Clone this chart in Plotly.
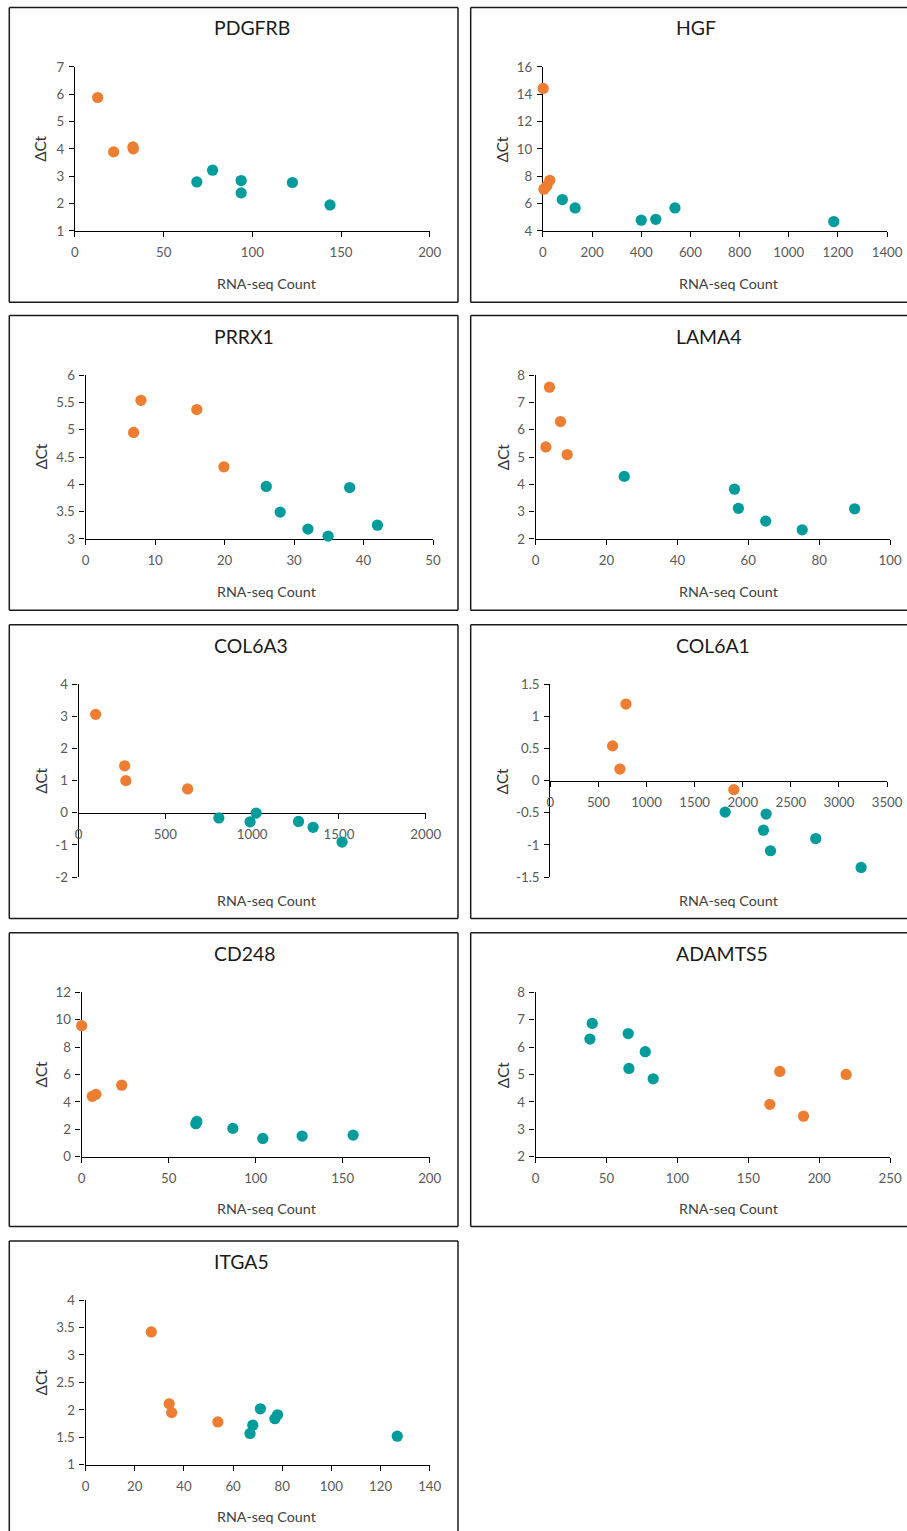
import plotly.graph_objects as go

# ---------------- data ----------------
genes = ["PDGFRB", "HGF", "PRRX1", "LAMA4", "COL6A3", "COL6A1", "CD248", "ADAMTS5", "ITGA5"]

pdgfrb_orange_x = [12.8, 21.8, 32.7, 32.9]
pdgfrb_orange_y = [5.88, 3.89, 4.07, 4.0]
pdgfrb_teal_x = [68.7, 77.6, 93.7, 93.7, 122.6, 143.8]
pdgfrb_teal_y = [2.79, 3.22, 2.84, 2.39, 2.77, 1.95]

hgf_orange_x = [1, 4, 16, 28]
hgf_orange_y = [14.42, 7.05, 7.3, 7.7]
hgf_teal_x = [79, 131, 400, 459, 537, 1183]
hgf_teal_y = [6.29, 5.68, 4.78, 4.85, 5.68, 4.68]

prrx1_orange_x = [6.9, 7.96, 16.0, 19.9]
prrx1_orange_y = [4.95, 5.54, 5.37, 4.32]
prrx1_teal_x = [26.0, 28.0, 32.0, 34.9, 38.0, 42.0]
prrx1_teal_y = [3.96, 3.49, 3.18, 3.05, 3.94, 3.25]

lama4_orange_x = [3.9, 7.0, 2.9, 8.9]
lama4_orange_y = [7.56, 6.30, 5.37, 5.09]
lama4_teal_x = [25.0, 56.1, 57.2, 64.9, 75.2, 90.0]
lama4_teal_y = [4.29, 3.82, 3.12, 2.65, 2.33, 3.10]

col6a3_orange_x = [98, 265, 272, 628]
col6a3_orange_y = [3.06, 1.46, 1.0, 0.74]
col6a3_teal_x = [808, 988, 1023, 1267, 1351, 1518]
col6a3_teal_y = [-0.16, -0.28, -0.01, -0.27, -0.45, -0.91]

col6a1_orange_x = [786, 647, 723, 1907]
col6a1_orange_y = [1.19, 0.54, 0.18, -0.14]
col6a1_teal_x = [1817, 2243, 2215, 2288, 2759, 3230]
col6a1_teal_y = [-0.49, -0.52, -0.77, -1.09, -0.90, -1.35]

cd248_orange_x = [0.0, 6.1, 8.2, 23.0]
cd248_orange_y = [9.55, 4.41, 4.55, 5.22]
cd248_teal_x = [65.6, 66.2, 86.9, 104.1, 126.7, 156.0]
cd248_teal_y = [2.41, 2.58, 2.07, 1.34, 1.51, 1.58]

adamts5_orange_x = [172.2, 219.0, 165.2, 188.9]
adamts5_orange_y = [5.11, 5.0, 3.91, 3.48]
adamts5_teal_x = [39.9, 38.3, 65.3, 77.3, 65.8, 82.9]
adamts5_teal_y = [6.86, 6.29, 6.49, 5.83, 5.22, 4.84]

itga5_orange_x = [26.7, 34.0, 35.0, 53.8]
itga5_orange_y = [3.42, 2.11, 1.95, 1.78]
itga5_teal_x = [66.9, 68.0, 71.1, 77.0, 78.1, 126.8]
itga5_teal_y = [1.57, 1.72, 2.02, 1.84, 1.91, 1.52]

x_ranges = [(0, 200, 50), (0, 1400, 200), (0, 50, 10), (0, 100, 20), (0, 2000, 500),
            (0, 3500, 500), (0, 200, 50), (0, 250, 50), (0, 140, 20)]
y_ranges = [(1, 7, 1), (4, 16, 2), (3, 6, 0.5), (2, 8, 1), (-2, 4, 1),
            (-1.5, 1.5, 0.5), (0, 12, 2), (2, 8, 1), (1, 4, 0.5)]

x_title = "RNA-seq Count"
y_title = "ΔCt"

series = [
    (pdgfrb_orange_x, pdgfrb_orange_y, pdgfrb_teal_x, pdgfrb_teal_y),
    (hgf_orange_x, hgf_orange_y, hgf_teal_x, hgf_teal_y),
    (prrx1_orange_x, prrx1_orange_y, prrx1_teal_x, prrx1_teal_y),
    (lama4_orange_x, lama4_orange_y, lama4_teal_x, lama4_teal_y),
    (col6a3_orange_x, col6a3_orange_y, col6a3_teal_x, col6a3_teal_y),
    (col6a1_orange_x, col6a1_orange_y, col6a1_teal_x, col6a1_teal_y),
    (cd248_orange_x, cd248_orange_y, cd248_teal_x, cd248_teal_y),
    (adamts5_orange_x, adamts5_orange_y, adamts5_teal_x, adamts5_teal_y),
    (itga5_orange_x, itga5_orange_y, itga5_teal_x, itga5_teal_y),
]

# ---------------- layout geometry (target picture pixels) ----------------
W, H = 907, 1531
# the photographed page comes out slightly shrunk and offset; compensate for it
SX, OX = 0.979, 4.0
SY, OY = 0.9897, 7.8
FIG_W, FIG_H = 923, 1540

# plot areas: left, right, top, bottom
plot_px = [
    (75.0, 430.0, 66.7, 230.7),
    (543.3, 887.7, 66.7, 230.7),
    (85.7, 433.3, 375.0, 538.7),
    (536.0, 890.7, 375.0, 538.7),
    (78.7, 426.0, 684.0, 877.0),
    (550.7, 887.7, 684.0, 877.0),
    (81.7, 430.0, 992.0, 1156.7),
    (536.0, 890.7, 992.0, 1156.7),
    (85.7, 430.0, 1300.0, 1464.7),
]
box_cols = [(9.3, 458.3), (471.0, None)]
box_rows = [(7.3, 302.0), (315.3, 610.0), (624.7, 918.3), (932.7, 1226.3), (1241.0, None)]
title_y = [27.3, 336.0, 645.0, 953.0, 1261.0]
title_x_left = [212.3, 674.3]
ytitle_x = [40.7, 502.7]
ytitle_y = [149.0, 456.7, 781.0, 1074.7, 1382.7]
xtitle_x = [267.0, 728.7]
xtitle_y = [283.3, 591.7, 900.3, 1208.3, 1516.3]

ORANGE = "#ED7D31"
TEAL = "#009B9B"
FONT = "Lato, 'Open Sans', sans-serif"
FS = 1 / SX  # font / marker size compensation


def fx(px):
    return ((px - OX) / SX) / FIG_W


def fy(py):
    return 1 - ((py - OY) / SY) / FIG_H


fig = go.Figure()
layout = dict(
    autosize=True, margin=dict(l=0, r=0, t=0, b=0, pad=0),
    paper_bgcolor="white", plot_bgcolor="rgba(0,0,0,0)",
    showlegend=False, font=dict(family=FONT),
)
shapes = []
annotations = []


def seg(xa, ya, xb, yb):
    return dict(type="line", xref="paper", yref="paper",
                x0=fx(xa), y0=fy(ya), x1=fx(xb), y1=fy(yb),
                line=dict(color="#1a1a1a", width=1.5), layer="below")


for i, gene in enumerate(genes):
    n = "" if i == 0 else str(i + 1)
    ox, oy, tx, ty = series[i]
    for xs, ys, col in ((tx, ty, TEAL), (ox, oy, ORANGE)):
        fig.add_trace(go.Scatter(
            x=xs, y=ys, mode="markers", xaxis="x" + n, yaxis="y" + n,
            marker=dict(color=col, size=11 * FS, line=dict(width=0)),
            cliponaxis=False, hoverinfo="x+y",
        ))
    l, r, t, b = plot_px[i]
    x0, x1, xd = x_ranges[i]
    y0, y1, yd = y_ranges[i]
    xt = []
    v = x0
    while v <= x1 + 1e-9:
        xt.append(v)
        v += xd
    yt = []
    v = y0
    while v <= y1 + 1e-9:
        yt.append(round(v, 6))
        v += yd
    common = dict(showgrid=False, zeroline=False, showline=True, linecolor="#000000",
                  linewidth=1.3, ticks="outside", ticklen=5, tickwidth=1.2,
                  tickcolor="#000000", tickfont=dict(family=FONT, size=13 * FS, color="#595959"),
                  layer="below traces", fixedrange=True)
    xa = dict(common, domain=[fx(l), fx(r)], range=[x0, x1], tickvals=xt,
              ticktext=[f"{v:g}" for v in xt], ticklabelstandoff=4)
    if y0 < 0:
        frac = (0 - y0) / (y1 - y0)
        xa.update(anchor="free", position=fy(b) + frac * (fy(t) - fy(b)))
    else:
        xa.update(anchor="y" + n)
    ya = dict(common, domain=[fy(b), fy(t)], range=[y0, y1], tickvals=yt,
              ticktext=[f"{v:g}" for v in yt], anchor="x" + n, ticklabelstandoff=2)
    layout["xaxis" + n] = xa
    layout["yaxis" + n] = ya

    row, col = divmod(i, 2)
    bx0, bx1 = box_cols[col]
    by0, by1 = box_rows[row]
    xr = bx1 if bx1 is not None else W + 2
    yb = by1 if by1 is not None else H + 2
    shapes.append(seg(bx0, by0, bx0, yb))          # left edge
    shapes.append(seg(bx0, by0, xr, by0))          # top edge
    if by1 is not None:
        shapes.append(seg(bx0, by1, xr, by1))      # bottom edge
    if bx1 is not None:
        shapes.append(seg(bx1, by0, bx1, yb))      # right edge

    annotations.append(dict(text=gene, xref="paper", yref="paper",
                            x=fx(title_x_left[col]), y=fy(title_y[row]),
                            xanchor="left", yanchor="middle", showarrow=False,
                            font=dict(family=FONT, size=19 * FS, color="#1a1a1a")))
    annotations.append(dict(text=y_title, xref="paper", yref="paper",
                            x=fx(ytitle_x[col]), y=fy(ytitle_y[row]), textangle=-90,
                            xanchor="center", yanchor="middle", showarrow=False,
                            font=dict(family=FONT, size=15 * FS, color="#333333")))
    annotations.append(dict(text=x_title, xref="paper", yref="paper",
                            x=fx(xtitle_x[col]), y=fy(xtitle_y[row]),
                            xanchor="center", yanchor="middle", showarrow=False,
                            font=dict(family=FONT, size=14 * FS, color="#404040")))

layout["shapes"] = shapes
layout["annotations"] = annotations
fig.update_layout(**layout)
fig.write_html(
    "out.html",
    config={"displayModeBar": False, "responsive": False},
    default_width=f"{FIG_W}px;position:fixed;left:0;top:0;margin:0",
    default_height=f"{FIG_H}px",
    post_script="document.body.style.margin='0';document.body.style.overflow='hidden';"
                "document.documentElement.style.overflow='hidden';",
)
